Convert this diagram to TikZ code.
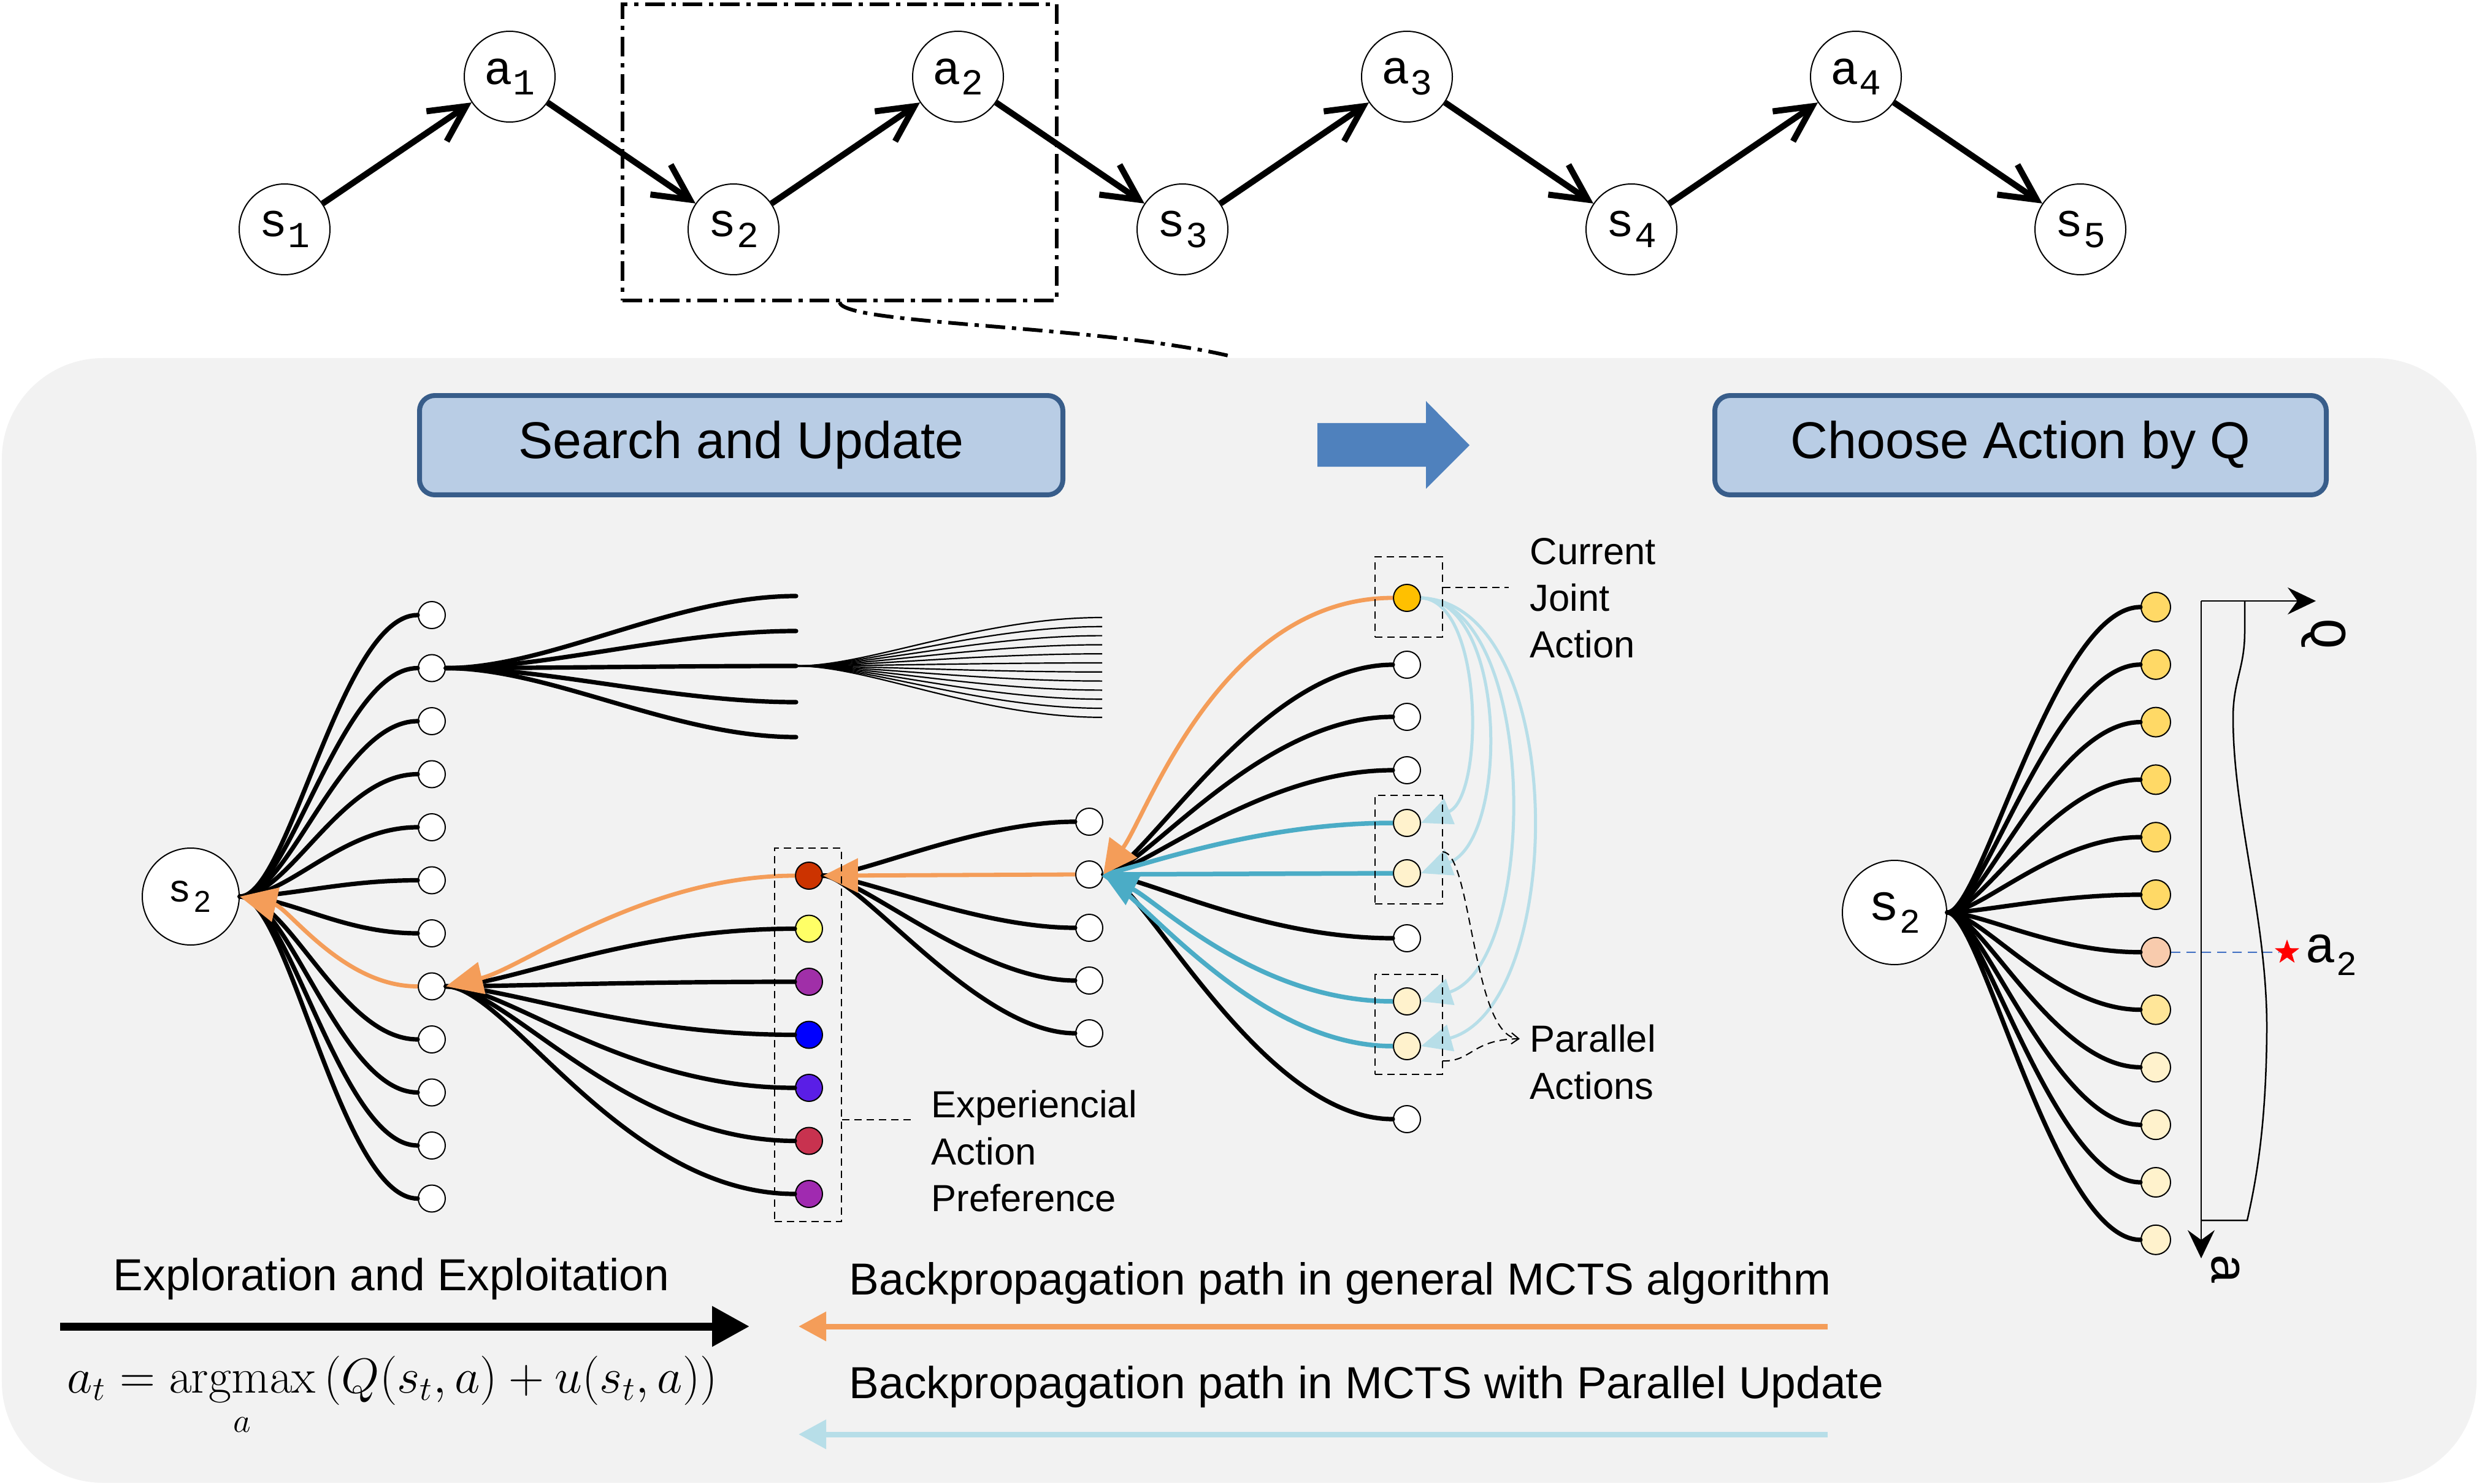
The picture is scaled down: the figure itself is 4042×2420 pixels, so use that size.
\documentclass[tikz,border=0pt]{standalone}
\usepackage[no-math]{fontspec}
\usepackage{graphicx}
\setmainfont{Liberation Sans}
\newfontfamily\monof{Liberation Mono}
\usetikzlibrary{arrows.meta,shapes.geometric}
\definecolor{panelgray}{HTML}{F2F2F2}
\definecolor{boxfill}{HTML}{B9CDE5}
\definecolor{boxdraw}{HTML}{385D8A}
\definecolor{arrblue}{HTML}{4F81BD}
\definecolor{orng}{HTML}{F49D59}
\definecolor{tealc}{HTML}{4BACC6}
\definecolor{lblue}{HTML}{B7DEE8}
\definecolor{goldc}{HTML}{FFC000}
\definecolor{cream}{HTML}{FFF2CC}
\definecolor{qgold}{HTML}{FFD966}
\definecolor{qpeach}{HTML}{F8CBAD}
\definecolor{qlight}{HTML}{FFE699}
\definecolor{expA}{HTML}{CC3300}
\definecolor{expB}{HTML}{FFFF66}
\definecolor{expC}{HTML}{A02FA8}
\definecolor{expD}{HTML}{0000FF}
\definecolor{expE}{HTML}{5A1EE6}
\definecolor{expF}{HTML}{C8324F}
\definecolor{expG}{HTML}{A02AB0}
\definecolor{dashblue}{HTML}{4472C4}
\newcommand\fsz[2]{\fontsize{#1pt}{#2pt}\selectfont}
\newcommand\toplab[2]{{\monof\fsz{22}{22}#1}\raisebox{-5pt}{\monof\fsz{17}{17}#2}}
\newcommand\rlab[2]{{\monof\fsz{24}{24}#1}\raisebox{-6pt}{\monof\fsz{16}{16}#2}}
\newcommand\llab[2]{{\fsz{18}{18}#1}\hspace{2pt}\raisebox{-5pt}{\fsz{14}{14}#2}}
\tikzset{
  topnode/.style={circle, draw, line width=0.2mm, fill=white, minimum size=14.8mm, inner sep=0pt},
  smallnode/.style={circle, draw, line width=0.2mm, fill=white, minimum size=4.4mm, inner sep=0pt},
  qnode/.style={circle, draw, line width=0.2mm, fill=white, minimum size=4.8mm, inner sep=0pt},
  chainarrow/.style={line width=1mm, -{Straight Barb[length=5.8mm,width=5.9mm]}},
  dashdotline/.style={line width=0.6mm, dash pattern=on 3.2mm off 1.1mm on 0.7mm off 1.1mm},
  titlebox/.style={rounded corners=2.5mm, fill=boxfill, draw=boxdraw, line width=0.8mm, font=\fsz{24}{28}},
  edgeline/.style={line width=0.72mm, line cap=round},
  thinedge/.style={line width=0.22mm},
  orngline/.style={line width=0.68mm, draw=orng},
  tealline/.style={line width=0.75mm, draw=tealc},
  lbline/.style={line width=0.5mm, draw=lblue, -{Triangle[length=5mm,width=4.4mm]}},
  dbox/.style={draw, line width=0.2mm, dash pattern=on 1.2mm off 0.8mm, inner sep=0pt},
  dconn/.style={line width=0.2mm, dash pattern=on 1.2mm off 0.8mm},
  lbl/.style={anchor=base west, font=\fsz{17.5}{21}, inner sep=0pt},
  legend/.style={font=\fsz{20.8}{25}, inner sep=0pt}
}
\begin{document}
\begin{tikzpicture}[x=0.1mm,y=-0.1mm]
\useasboundingbox (0,0) rectangle (4042,2420);
\fill[white] (0,0) rectangle (4042,2420);
\fill[panelgray, rounded corners=16.5mm] (3,584) rectangle (4038,2418);

% ---------- top chain ----------
\foreach \nm/\xx/\yy/\la/\su in {s1/464/374/s/1, a1/831/125/a/1, s2/1196/374/s/2, a2/1562/125/a/2, s3/1928/374/s/3, a3/2294/125/a/3, s4/2660/374/s/4, a4/3026/125/a/4, s5/3392/374/s/5}
  \node[topnode] (t\nm) at (\xx,\yy) {\toplab{\la}{\su}};
\foreach \aa/\bb in {s1/a1,a1/s2,s2/a2,a2/s3,s3/a3,a3/s4,s4/a4,a4/s5}
  \draw[chainarrow] (t\aa) -- (t\bb);
\node[dashdotline, draw, minimum width=70.8mm, minimum height=48.3mm, inner sep=0pt] (zoomframe) at (1369,248.5) {};
\coordinate (zoomend) at (2011,582);
\draw[dashdotline] (zoomframe.south) .. controls (1375,530) and (1800,530) .. (zoomend);

% ---------- titles ----------
\node[titlebox, minimum width=104.9mm, minimum height=16.2mm] (su) at (1208.5,726) {Search and Update};
\node[titlebox, minimum width=99.7mm, minimum height=16.2mm] (ca) at (3294.5,726) {Choose Action by Q};
\fill[arrblue] (2148,690) -- (2325,690) -- (2325,654) -- (2396,726) -- (2325,797) -- (2325,761) -- (2148,761) -- cycle;

% ---------- left tree ----------
\node[circle, draw, line width=0.2mm, fill=white, minimum size=15.8mm, inner sep=0pt] (s2L) at (311,1462) {\llab{s}{2}};
\foreach \k in {1,...,12}{
  \pgfmathsetmacro\yy{1003+86.5*(\k-1)}
  \node[smallnode] (L\k) at (704,\yy) {};
}
\foreach \k in {1,...,7,9,10,11,12}
  \draw[edgeline] (s2L.east) .. controls +(80,0) and +(-125,0) .. (L\k.west);
\foreach \j/\yy in {1/972,2/1029,3/1086,4/1145,5/1202}{
  \coordinate (F\j) at (1298,\yy);
  \draw[edgeline] (L2.east) .. controls +(170,0) and +(-200,0) .. (F\j);
}
\foreach \j in {1,...,12}{
  \pgfmathsetmacro\yy{1007+14.8*(\j-1)}
  \coordinate (G\j) at (1797,\yy);
  \draw[thinedge] (F3) .. controls +(120,0) and +(-200,0) .. (G\j);
}
% experiential nodes
\foreach \k/\cc in {1/expA,2/expB,3/expC,4/expD,5/expE,6/expF,7/expG}{
  \pgfmathsetmacro\yy{1428+86.5*(\k-1)}
  \node[smallnode, fill=\cc] (E\k) at (1319,\yy) {};
}
\foreach \k in {2,...,7}
  \draw[edgeline] (L8.east) .. controls +(100,0) and +(-280,0) .. (E\k.west);
% third level
\foreach \k/\yy in {1/1340,2/1426,3/1513,4/1599,5/1685}
  \node[smallnode] (M\k) at (1776,\yy) {};
\foreach \k in {1,3,4,5}
  \draw[edgeline] (E1.east) .. controls +(60,0) and +(-160,0) .. (M\k.west);
% fourth level
\foreach \k/\yy/\cc in {1/975/goldc,2/1084/white,3/1169/white,4/1256/white,5/1342/cream,6/1424/cream,7/1530/white,8/1633/cream,9/1706/cream,10/1825/white}
  \node[smallnode, fill=\cc] (R\k) at (2294,\yy) {};
\foreach \k in {2,3,4,7,10}
  \draw[edgeline] (M2.east) .. controls +(60,0) and +(-220,0) .. (R\k.west);
% teal (parallel update)
\draw[tealline] (R5.west) .. controls +(-220,0) and +(70,-15) .. (M2.east);
\draw[tealline] (R6.west) -- (M2.east);
\draw[tealline] (R9.west) .. controls +(-220,0) and +(70,45) .. (M2.east);
\draw[tealline, -{Triangle[length=5.5mm,width=5.5mm]}] (R8.west) .. controls +(-220,0) and +(90,45) .. (M2.east);
% orange (general backprop)
\draw[orngline, -{Triangle[length=5.5mm,width=5.5mm]}] (R1.west) .. controls (1990,975) and (1870,1330) .. (M2.east);
\draw[orngline, -{Triangle[length=5.7mm,width=5.5mm]}] (M2.west) -- (E1.east);
\draw[orngline, -{Triangle[length=6mm,width=5.2mm]}] (E1.west) .. controls (1050,1428) and (850,1580) .. (L8.east);
\draw[orngline, -{Triangle[length=6mm,width=5.6mm]}] (L8.west) .. controls (560,1609) and (470,1480) .. (s2L.east);
% light blue loops
\draw[lbline] (R1.east) .. controls (2420,980) and (2420,1300) .. (R5.east);
\draw[lbline] (R1.east) .. controls (2460,980) and (2460,1370) .. (R6.east);
\draw[lbline] (R1.east) .. controls (2510,985) and (2510,1570) .. (R8.east);
\draw[lbline] (R1.east) .. controls (2560,985) and (2555,1640) .. (R9.east);

% dashed boxes and labels
\node[dbox, minimum width=10.9mm, minimum height=60.9mm] (expbox) at (1317.5,1687.5) {};
\node[dbox, minimum width=11mm, minimum height=13.1mm] (curbox) at (2297,973.5) {};
\node[dbox, minimum width=11mm, minimum height=17.7mm] (p1box) at (2297,1385.5) {};
\node[dbox, minimum width=11mm, minimum height=16.3mm] (p2box) at (2297,1670.5) {};
\coordinate (expc) at (1489,1826);
\draw[dconn] (expbox.east |- expc) -- (expc);
\coordinate (curc) at (2460,958);
\draw[dconn] (curbox.east |- curc) -- (curc);
\coordinate (pa) at (2352,1389);
\coordinate (pb) at (2352,1730);
\coordinate (parc) at (2478,1694);
\draw[dconn, -{Straight Barb[length=1.2mm,width=1.8mm]}] (pa) .. controls (2400,1389) and (2400,1690) .. (parc);
\draw[dconn] (pb) .. controls (2400,1732) and (2400,1694) .. (parc);

\node[lbl] (t-cur1) at (2494,920) {Current};
\node[lbl] (t-cur2) at (2494,996) {Joint};
\node[lbl] (t-cur3) at (2494,1072) {Action};
\node[lbl] (t-par1) at (2494,1715) {Parallel};
\node[lbl] (t-par2) at (2494,1792) {Actions};
\node[lbl] (t-exp1) at (1518,1822) {Experiencial};
\node[lbl] (t-exp2) at (1518,1899) {Action};
\node[lbl] (t-exp3) at (1518,1975) {Preference};

% ---------- right tree ----------
\node[circle, draw, line width=0.2mm, fill=white, minimum size=17mm, inner sep=0pt] (s2R) at (3089,1488) {\rlab{s}{2}};
\foreach \k/\cc in {1/qgold,2/qgold,3/qgold,4/qgold,5/qgold,6/qgold,7/qpeach,8/qlight,9/cream,10/cream,11/cream,12/cream}{
  \pgfmathsetmacro\yy{990+93.8*(\k-1)}
  \node[qnode, fill=\cc] (Q\k) at (3515,\yy) {};
}
\foreach \k in {1,...,12}
  \draw[edgeline] (s2R.east) .. controls +(56,0) and +(-140,0) .. (Q\k.west);
\coordinate (ax0) at (3589,980);
\coordinate (axQ) at (3776,980);
\coordinate (axA) at (3589,2052);
\draw[line width=0.25mm, -{Stealth[length=4.6mm,width=4.4mm,inset=1.6mm]}] (ax0) -- (axQ);
\draw[line width=0.25mm, -{Stealth[length=4.6mm,width=4.4mm,inset=1.6mm]}] (ax0) -- (axA);
\draw[line width=0.25mm] (3660,980) -- (3660,1030) .. controls (3660,1090) and (3641,1110) .. (3641,1170) .. controls (3641,1330) and (3697,1500) .. (3696,1680) .. controls (3695,1830) and (3680,1920) .. (3664,1990) -- (3589,1990);
\node[star, star points=5, star point ratio=2.5, fill=red, inner sep=0pt, minimum size=4.2mm] (star) at (3729,1553) {};
\draw[line width=0.2mm, draw=dashblue, dash pattern=on 1.5mm off 1mm] (Q7.east) -- (star.west);
\node[anchor=west, inner sep=0pt] (a2lab) at (3758,1557) {\rlab{a}{2}};
\node[rotate=-90, inner sep=0pt] (qlab) at (3789,1034) {\monof\fsz{24}{24}Q};
\node[rotate=-90, inner sep=0pt] (alab) at (3629,2070) {\monof\fsz{24}{24}a};

% ---------- legend ----------
\node[legend, anchor=base] (explab) at (638,2104) {Exploration and Exploitation};
\coordinate (bk1) at (98,2163);
\coordinate (bk2) at (1222,2163);
\draw[line width=1.3mm, -{Triangle[length=6.1mm,width=6.3mm]}] (bk1) -- (bk2);
\node[anchor=base, inner sep=0pt] (formula) at (640,2271) {\resizebox{106mm}{!}{\fsz{21}{25}$\displaystyle a_t = \mathop{\mathrm{argmax}}\limits_{\rule{0pt}{11pt}a}\left(Q(s_t,a)+u(s_t,a)\right)$}};
\node[legend, anchor=base west] (bplab1) at (1384,2111) {Backpropagation path in general MCTS algorithm};
\node[legend, anchor=base west] (bplab2) at (1384,2280) {Backpropagation path in MCTS with Parallel Update};
\coordinate (or1) at (2980,2163);
\coordinate (or2) at (1302,2163);
\draw[line width=0.9mm, draw=orng, -{Triangle[length=4.5mm,width=4.6mm]}] (or1) -- (or2);
\coordinate (lb1) at (2980,2339);
\coordinate (lb2) at (1302,2339);
\draw[line width=0.9mm, draw=lblue, -{Triangle[length=4.5mm,width=4.6mm]}] (lb1) -- (lb2);
\end{tikzpicture}
\end{document}
